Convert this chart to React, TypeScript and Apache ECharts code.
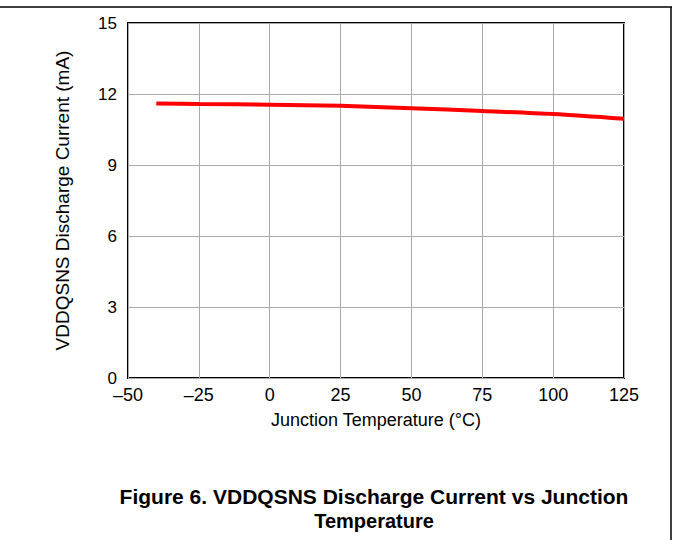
import React, { useEffect, useRef } from "react";
import * as echarts from "echarts";

const temperatures = [-40, -25, 0, 25, 50, 75, 100, 125];
const currents = [11.6, 11.58, 11.55, 11.5, 11.4, 11.28, 11.15, 10.95];
const xTicks = { min: -50, max: 125, interval: 25 };
const yTicks = { min: 0, max: 15, interval: 3 };
const xName = "Junction Temperature (°C)";
const yName = "VDDQSNS Discharge Current (mA)";
const titleLines = ["Figure 6. VDDQSNS Discharge Current vs Junction", "Temperature"];

const FONT = "'Liberation Sans', Arial, sans-serif";

export default function App() {
  const ref = useRef<HTMLDivElement>(null);
  useEffect(() => {
    if (!ref.current) return;
    const chart = echarts.init(ref.current, undefined, { renderer: "svg" });
    chart.setOption({
      animation: false,
      backgroundColor: "#fff",
      grid: { left: 128, right: 49, top: 23, bottom: 162, show: true, borderColor: "#000", borderWidth: 2, backgroundColor: "transparent" },
      xAxis: {
        type: "value",
        min: xTicks.min,
        max: xTicks.max,
        interval: xTicks.interval,
        name: xName,
        nameLocation: "middle",
        nameGap: 33,
        nameTextStyle: { fontFamily: FONT, fontSize: 18, color: "#000" },
        axisLine: { show: false },
        axisTick: { show: false },
        axisLabel: {
          fontFamily: FONT, fontSize: 18, color: "#000", margin: 8,
          formatter: (v: number) => (v < 0 ? "\u2013" + Math.abs(v) : String(v)),
        },
        splitLine: { show: true, lineStyle: { color: "#aaa", width: 1 } },
      },
      yAxis: {
        type: "value",
        min: yTicks.min,
        max: yTicks.max,
        interval: yTicks.interval,
        name: yName,
        nameLocation: "middle",
        nameGap: 56,
        nameTextStyle: { fontFamily: FONT, fontSize: 19, color: "#000" },
        axisLine: { show: false },
        axisTick: { show: false },
        axisLabel: { fontFamily: FONT, fontSize: 17, color: "#000", margin: 11 },
        splitLine: { show: true, lineStyle: { color: "#aaa", width: 1 } },
      },
      series: [
        {
          type: "line",
          data: temperatures.map((t, i) => [t, currents[i]]),
          smooth: 0.3,
          showSymbol: false,
          lineStyle: { color: "#ff0000", width: 4 },
          clip: true,
          z: 5,
        },
      ],
      graphic: [
        { type: "line", shape: { x1: 0, y1: 7, x2: 672, y2: 7 }, style: { stroke: "#000", lineWidth: 1.5 } },
        { type: "line", shape: { x1: 671, y1: 7, x2: 671, y2: 540 }, style: { stroke: "#000", lineWidth: 1.5 } },
        {
          type: "text", x: 374, y: 496,
          style: { text: titleLines[0], fontFamily: FONT, fontSize: 21, fontWeight: "bold", fill: "#000", textAlign: "center", textVerticalAlign: "middle" },
        },
        {
          type: "text", x: 374, y: 521,
          style: { text: titleLines[1], fontFamily: FONT, fontSize: 20, fontWeight: "bold", fill: "#000", textAlign: "center", textVerticalAlign: "middle" },
        },
      ],
    });
    return () => chart.dispose();
  }, []);
  return <div ref={ref} style={{ position: "absolute", left: 0, top: 0, width: 673, height: 540 }} />;
}
